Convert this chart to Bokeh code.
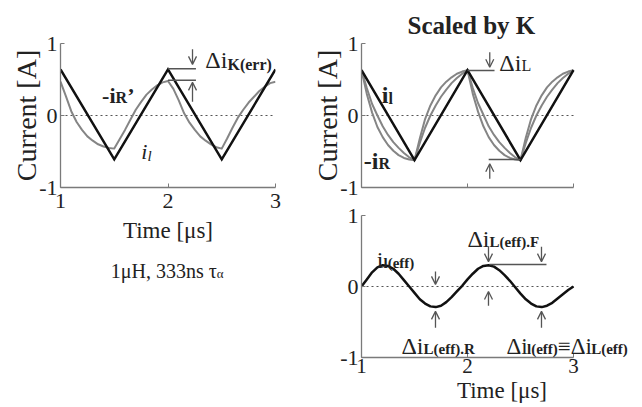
from bokeh.plotting import figure
from bokeh.layouts import row, column
from bokeh.models import Label, Arrow, OpenHead, FixedTicker, ColumnDataSource
from bokeh.embed import file_html
from bokeh.resources import INLINE

FONT = "Liberation Serif"

# ---------------- data ----------------
time_tri = [1.0, 1.5, 2.0, 2.5, 3.0]
il_left = [0.64, -0.61, 0.64, -0.61, 0.64]
il_right = [0.63, -0.62, 0.63, -0.62, 0.63]

time_s = [1.00, 1.05, 1.10, 1.15, 1.20, 1.25, 1.30, 1.35, 1.40, 1.45, 1.50,
          1.55, 1.60, 1.65, 1.70, 1.75, 1.80, 1.85, 1.90, 1.95, 2.00,
          2.05, 2.10, 2.15, 2.20, 2.25, 2.30, 2.35, 2.40, 2.45, 2.50,
          2.55, 2.60, 2.65, 2.70, 2.75, 2.80, 2.85, 2.90, 2.95, 3.00]

neg_iR_prime = [0.47, 0.27, 0.06, -0.09, -0.20, -0.29, -0.35, -0.40, -0.43, -0.45, -0.46,
                -0.33, -0.20, -0.06, 0.08, 0.19, 0.29, 0.36, 0.42, 0.46, 0.48,
                0.37, 0.21, 0.03, -0.10, -0.20, -0.29, -0.35, -0.40, -0.44, -0.46,
                -0.32, -0.17, -0.03, 0.08, 0.18, 0.26, 0.34, 0.40, 0.45, 0.47]

neg_iR_outer = [0.63, 0.30, 0.04, -0.16, -0.30, -0.41, -0.49, -0.55, -0.59, -0.61, -0.62,
                -0.32, -0.05, 0.14, 0.28, 0.39, 0.47, 0.53, 0.58, 0.61, 0.63,
                0.30, 0.05, -0.15, -0.30, -0.41, -0.49, -0.55, -0.59, -0.61, -0.62,
                -0.31, -0.05, 0.14, 0.28, 0.39, 0.47, 0.53, 0.58, 0.61, 0.63]

neg_iR_inner = [0.63, 0.38, 0.16, 0.00, -0.15, -0.27, -0.37, -0.45, -0.52, -0.58, -0.62,
                -0.38, -0.17, 0.00, 0.14, 0.26, 0.36, 0.45, 0.52, 0.58, 0.63,
                0.38, 0.17, 0.01, -0.15, -0.27, -0.37, -0.45, -0.52, -0.58, -0.62,
                -0.38, -0.17, 0.00, 0.14, 0.26, 0.36, 0.45, 0.52, 0.58, 0.63]

il_eff = [0.00, 0.10, 0.20, 0.27, 0.30, 0.29, 0.25, 0.18, 0.09, 0.00, -0.09,
          -0.18, -0.24, -0.28, -0.29, -0.27, -0.22, -0.15, -0.07, 0.01, 0.10,
          0.18, 0.25, 0.29, 0.30, 0.28, 0.23, 0.16, 0.08, -0.01, -0.10,
          -0.18, -0.24, -0.28, -0.29, -0.27, -0.23, -0.17, -0.11, -0.05, 0.00]

zero_t = [1.0, 3.0]
zero_v = [0.0, 0.0]

x_ticks = [1, 2, 3]
y_ticks = [-1, 0, 1]
y_tick_labels = {-1: "-1", 0: "0", 1: "1"}

BLACK = "#111111"
GREY = "#858585"
AX = "#7a7a7a"
TXT = "#222222"
MARK = "#555555"


def make_fig(w, h, left, right, top, bottom, xr=(1, 3)):
    p = figure(width=w, height=h, x_range=xr, y_range=(-1, 1),
               output_backend="svg", toolbar_location=None,
               min_border_left=left, min_border_right=right,
               min_border_top=top, min_border_bottom=bottom)
    p.grid.visible = False
    p.outline_line_color = None
    p.background_fill_color = "white"
    p.border_fill_color = "white"
    p.xaxis.ticker = FixedTicker(ticks=x_ticks)
    p.yaxis.ticker = FixedTicker(ticks=y_ticks)
    p.yaxis.major_label_overrides = y_tick_labels
    p.xaxis.bounds = (1, 3)
    for ax in (p.xaxis, p.yaxis):
        ax.axis_line_color = AX
        ax.axis_line_width = 1.3
        ax.major_tick_line_color = AX
        ax.major_tick_in = 4
        ax.major_tick_out = 0
        ax.minor_tick_line_color = None
        ax.major_label_text_font = FONT
        ax.major_label_text_font_size = "22px"
        ax.major_label_text_color = TXT
        ax.major_label_standoff = 3
        ax.axis_label_text_font = FONT
        ax.axis_label_text_font_style = "normal"
        ax.axis_label_text_color = TXT
    p.yaxis.axis_label_text_font_size = "28px"
    p.yaxis.axis_label_standoff = -6
    p.xaxis.axis_label_text_font_size = "23px"
    p.xaxis.axis_label_standoff = 1
    p.line(zero_t, zero_v, line_color="#555555", line_dash="2 3", line_width=1.2)
    return p


def lab(p, x, y, text, size, style="normal", align="left", baseline="alphabetic"):
    p.add_layout(Label(x=x, y=y, text=text, text_font=FONT,
                       text_font_size=f"{size}px", text_font_style=style,
                       text_align=align, text_baseline=baseline, text_color=TXT))


def arrows(p, x0, y0, x1, y1):
    src = ColumnDataSource(dict(x0=x0, y0=y0, x1=x1, y1=y1))
    p.add_layout(Arrow(source=src, x_start="x0", y_start="y0", x_end="x1", y_end="y1",
                       line_color=MARK, line_width=1.3,
                       end=OpenHead(size=8, line_color=MARK, line_width=1.3)))


# ---------------- top-left ----------------
tl = make_fig(304, 247, 60, 29, 43, 60)
tl.yaxis.axis_label = "Current [A]"
tl.xaxis.axis_label = "Time [μs]"
tl.xaxis.major_label_standoff = 6
tl.xaxis.axis_label_standoff = 7
tl.line(time_s, neg_iR_prime, line_color=GREY, line_width=2, line_join="round")
tl.line(time_tri, il_left, line_color=BLACK, line_width=2.5, line_join="miter")
tl.line([2.0, 2.26], [0.65, 0.65], line_color=MARK, line_width=1.5)
tl.line([2.0, 2.26], [0.49, 0.49], line_color=MARK, line_width=1.5)
arrows(tl, [2.228, 2.228], [0.92, 0.19], [2.228, 2.228], [0.71, 0.46])
lab(tl, 2.553, 0.764, "Δi", 24, align="right")
lab(tl, 2.553, 0.71, "K(err)", 16, style="bold")
lab(tl, 1.512, 0.278, "-i", 22, style="bold", align="right")
lab(tl, 1.512, 0.25, "R", 16, style="bold")
lab(tl, 1.62, 0.278, "’", 22, style="bold")
lab(tl, 1.809, -0.50, "i", 22, style="italic", align="right")
lab(tl, 1.809, -0.556, "l", 15, style="italic")

# caption panel under the left plot
cap = figure(width=304, height=160, x_range=(0, 304), y_range=(0, 160),
             output_backend="svg", toolbar_location=None,
             x_axis_location=None, y_axis_location=None,
             min_border_left=0, min_border_right=0, min_border_top=0, min_border_bottom=0)
cap.grid.visible = False
cap.outline_line_color = None
lab(cap, 221, 137, "1μH, 333ns τ", 20, align="right")
lab(cap, 221, 134, "α", 13)

# ---------------- top-right ----------------
tr = make_fig(338, 200, 57, 0, 43, 13, xr=(1, 3.651))
tr.title.text = "Scaled by K"
tr.title.align = "left"
tr.title.offset = 46
tr.title.text_font = FONT
tr.title.text_font_size = "25px"
tr.title.text_font_style = "bold"
tr.title.text_color = TXT
tr.yaxis.axis_label = "Current [A]"
tr.xaxis.major_label_text_font_size = "1px"
tr.xaxis.major_label_text_alpha = 0
tr.xaxis.major_label_standoff = 0
tr.line(time_s, neg_iR_outer, line_color=GREY, line_width=2, line_join="round")
tr.line(time_s, neg_iR_inner, line_color=GREY, line_width=2, line_join="round")
tr.line(time_tri, il_right, line_color=BLACK, line_width=2.5, line_join="miter")
tr.line([2.0, 2.255], [0.625, 0.625], line_color=MARK, line_width=1.5)
tr.line([2.2, 2.5], [-0.61, -0.61], line_color=MARK, line_width=1.5)
arrows(tr, [2.21, 2.21], [0.88, -0.88], [2.21, 2.21], [0.67, -0.67])
lab(tr, 2.509, 0.736, "Δi", 24, align="right")
lab(tr, 2.509, 0.70, "L", 16)
lab(tr, 1.255, 0.278, "i", 24, style="bold", align="right")
lab(tr, 1.255, 0.236, "l", 16, style="bold")
lab(tr, 1.160, -0.625, "-i", 24, style="bold", align="right")
lab(tr, 1.160, -0.66, "R", 16, style="bold")

# ---------------- bottom-right ----------------
br = make_fig(338, 207, 57, 0, 15, 50, xr=(1, 3.651))
br.xaxis.axis_label = "Time [μs]"
br.xaxis.major_label_text_font_size = "21px"
br.xaxis.major_label_standoff = 1
br.xaxis.axis_label_text_font_size = "23px"
br.xaxis.axis_label_standoff = 2
br.line(time_s, il_eff, line_color=BLACK, line_width=2.5, line_join="round")
br.line([2.2075, 2.745], [0.31, 0.31], line_color=MARK, line_width=1.5)
arrows(br,
       [1.698, 1.698, 2.198, 2.698, 2.198, 2.698],
       [0.21, -0.58, 0.56, 0.56, -0.27, -0.58],
       [1.698, 1.698, 2.198, 2.698, 2.198, 2.698],
       [0.03, -0.35, 0.35, 0.35, -0.07, -0.35])
lab(br, 1.2075, 0.38, "i", 24, align="right")
lab(br, 1.2075, 0.338, "l(eff)", 15, style="bold")
lab(br, 1.585, -0.845, "Δi", 24, align="right")
lab(br, 1.585, -0.887, "L(eff).R", 15, style="bold")
lab(br, 2.2075, 0.662, "Δi", 24, align="right")
lab(br, 2.2075, 0.62, "L(eff).F", 15, style="bold")
lab(br, 2.368, -0.845, "Δi", 23)
lab(br, 2.561, -0.887, "l(eff)", 15, style="bold")
lab(br, 2.852, -0.845, "≡Δi", 23)
lab(br, 3.167, -0.887, "L(eff)", 15, style="bold")

layout = row(column(tl, cap), column(tr, br))
open("out.html", "w").write(file_html(layout, INLINE))
